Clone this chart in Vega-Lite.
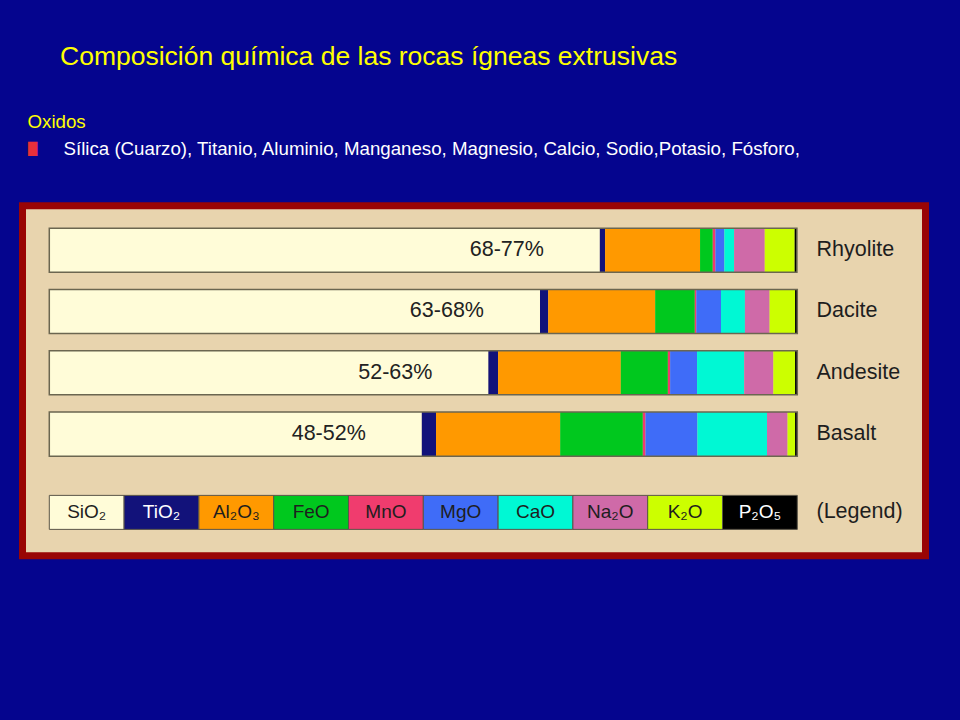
{
  "$schema": "https://vega.github.io/schema/vega-lite/v6.json",
  "width": 903,
  "height": 350,
  "autosize": {"type": "none"},
  "padding": {"left": 22.5, "top": 205.8, "right": 34.5, "bottom": 164.2},
  "background": "#05058e",
  "view": {"fill": "#e8d4ae", "stroke": "#990505", "strokeWidth": 7},
  "title": {
    "text": "Composición química de las rocas ígneas extrusivas",
    "anchor": "start",
    "frame": "group",
    "dx": 37.5,
    "offset": 42,
    "color": "#ffff00",
    "font": "Liberation Sans",
    "fontSize": 26.5,
    "fontWeight": "normal"
  },
  "datasets": {
    "comp": [
      {"rock": "Rhyolite", "oxide": "SiO2", "k": 1, "value": 73.6, "range": "68-77%"},
      {"rock": "Rhyolite", "oxide": "TiO2", "k": 2, "value": 0.7, "range": "68-77%"},
      {"rock": "Rhyolite", "oxide": "Al2O3", "k": 3, "value": 12.7, "range": "68-77%"},
      {"rock": "Rhyolite", "oxide": "FeO", "k": 4, "value": 1.7, "range": "68-77%"},
      {"rock": "Rhyolite", "oxide": "MnO", "k": 5, "value": 0.35, "range": "68-77%"},
      {"rock": "Rhyolite", "oxide": "MgO", "k": 6, "value": 1.2, "range": "68-77%"},
      {"rock": "Rhyolite", "oxide": "CaO", "k": 7, "value": 1.3, "range": "68-77%"},
      {"rock": "Rhyolite", "oxide": "Na2O", "k": 8, "value": 4.1, "range": "68-77%"},
      {"rock": "Rhyolite", "oxide": "K2O", "k": 9, "value": 4.0, "range": "68-77%"},
      {"rock": "Rhyolite", "oxide": "P2O5", "k": 10, "value": 0.3, "range": "68-77%"},
      {"rock": "Dacite", "oxide": "SiO2", "k": 1, "value": 65.6, "range": "63-68%"},
      {"rock": "Dacite", "oxide": "TiO2", "k": 2, "value": 1.1, "range": "63-68%"},
      {"rock": "Dacite", "oxide": "Al2O3", "k": 3, "value": 14.3, "range": "63-68%"},
      {"rock": "Dacite", "oxide": "FeO", "k": 4, "value": 5.3, "range": "63-68%"},
      {"rock": "Dacite", "oxide": "MnO", "k": 5, "value": 0.2, "range": "63-68%"},
      {"rock": "Dacite", "oxide": "MgO", "k": 6, "value": 3.3, "range": "63-68%"},
      {"rock": "Dacite", "oxide": "CaO", "k": 7, "value": 3.2, "range": "63-68%"},
      {"rock": "Dacite", "oxide": "Na2O", "k": 8, "value": 3.3, "range": "63-68%"},
      {"rock": "Dacite", "oxide": "K2O", "k": 9, "value": 3.4, "range": "63-68%"},
      {"rock": "Dacite", "oxide": "P2O5", "k": 10, "value": 0.3, "range": "63-68%"},
      {"rock": "Andesite", "oxide": "SiO2", "k": 1, "value": 58.7, "range": "52-63%"},
      {"rock": "Andesite", "oxide": "TiO2", "k": 2, "value": 1.3, "range": "52-63%"},
      {"rock": "Andesite", "oxide": "Al2O3", "k": 3, "value": 16.4, "range": "52-63%"},
      {"rock": "Andesite", "oxide": "FeO", "k": 4, "value": 6.3, "range": "52-63%"},
      {"rock": "Andesite", "oxide": "MnO", "k": 5, "value": 0.3, "range": "52-63%"},
      {"rock": "Andesite", "oxide": "MgO", "k": 6, "value": 3.6, "range": "52-63%"},
      {"rock": "Andesite", "oxide": "CaO", "k": 7, "value": 6.3, "range": "52-63%"},
      {"rock": "Andesite", "oxide": "Na2O", "k": 8, "value": 3.9, "range": "52-63%"},
      {"rock": "Andesite", "oxide": "K2O", "k": 9, "value": 2.9, "range": "52-63%"},
      {"rock": "Andesite", "oxide": "P2O5", "k": 10, "value": 0.3, "range": "52-63%"},
      {"rock": "Basalt", "oxide": "SiO2", "k": 1, "value": 49.8, "range": "48-52%"},
      {"rock": "Basalt", "oxide": "TiO2", "k": 2, "value": 1.9, "range": "48-52%"},
      {"rock": "Basalt", "oxide": "Al2O3", "k": 3, "value": 16.6, "range": "48-52%"},
      {"rock": "Basalt", "oxide": "FeO", "k": 4, "value": 11.05, "range": "48-52%"},
      {"rock": "Basalt", "oxide": "MnO", "k": 5, "value": 0.35, "range": "48-52%"},
      {"rock": "Basalt", "oxide": "MgO", "k": 6, "value": 6.95, "range": "48-52%"},
      {"rock": "Basalt", "oxide": "CaO", "k": 7, "value": 9.3, "range": "48-52%"},
      {"rock": "Basalt", "oxide": "Na2O", "k": 8, "value": 2.75, "range": "48-52%"},
      {"rock": "Basalt", "oxide": "K2O", "k": 9, "value": 1.0, "range": "48-52%"},
      {"rock": "Basalt", "oxide": "P2O5", "k": 10, "value": 0.3, "range": "48-52%"}
    ],
    "legend": [
      {"rock": "(Legend)", "oxide": "SiO2", "k": 1, "value": 10, "lab": "SiO₂"},
      {"rock": "(Legend)", "oxide": "TiO2", "k": 2, "value": 10, "lab": "TiO₂"},
      {"rock": "(Legend)", "oxide": "Al2O3", "k": 3, "value": 10, "lab": "Al₂O₃"},
      {"rock": "(Legend)", "oxide": "FeO", "k": 4, "value": 10, "lab": "FeO"},
      {"rock": "(Legend)", "oxide": "MnO", "k": 5, "value": 10, "lab": "MnO"},
      {"rock": "(Legend)", "oxide": "MgO", "k": 6, "value": 10, "lab": "MgO"},
      {"rock": "(Legend)", "oxide": "CaO", "k": 7, "value": 10, "lab": "CaO"},
      {"rock": "(Legend)", "oxide": "Na2O", "k": 8, "value": 10, "lab": "Na₂O"},
      {"rock": "(Legend)", "oxide": "K2O", "k": 9, "value": 10, "lab": "K₂O"},
      {"rock": "(Legend)", "oxide": "P2O5", "k": 10, "value": 10, "lab": "P₂O₅"}
    ]
  },
  "layer": [
    {
      "data": {"name": "comp"},
      "mark": {"type": "bar"},
      "encoding": {
        "y": {
          "field": "rock", "type": "nominal",
          "scale": {"domain": ["Rhyolite", "Dacite", "Andesite", "Basalt", "(Legend)"], "paddingInner": 0.28, "paddingOuter": 0.495, "align": 0.368},
          "axis": {
            "orient": "right", "offset": -109.5, "domain": false, "ticks": false, "tickSize": 0, "grid": false,
            "labelPadding": 0, "labelAlign": "left", "labelBaseline": "middle",
            "labelFont": "Liberation Sans", "labelFontSize": 21.5, "labelColor": "#1e1e1e",
            "labelOffset": {"condition": {"test": "datum.value === '(Legend)'", "value": 17}, "value": 0},
            "title": null
          }
        },
        "x": {
          "field": "value", "type": "quantitative", "stack": "zero",
          "scale": {"domain": [-3.583, 117.14], "nice": false, "zero": false},
          "axis": {
            "orient": "top", "labels": false, "ticks": false, "domain": false, "grid": false,
            "title": "Sílica (Cuarzo), Titanio, Aluminio, Manganeso, Magnesio, Calcio, Sodio,Potasio, Fósforo,",
            "titleX": 40.5, "titleY": -51.8, "titleAlign": "left", "titleBaseline": "alphabetic", "titleAngle": 0,
            "titleColor": "#ffffff", "titleFont": "Liberation Sans", "titleFontSize": 18.7, "titleFontWeight": "normal"
          }
        },
        "order": {"field": "k", "type": "quantitative"},
        "color": {
          "field": "oxide", "type": "nominal", "legend": null,
          "scale": {
            "domain": ["SiO2", "TiO2", "Al2O3", "FeO", "MnO", "MgO", "CaO", "Na2O", "K2O", "P2O5"],
            "range": ["#fffcd8", "#12127a", "#ff9900", "#00c81e", "#f03c6e", "#3f6cf8", "#00f8d4", "#cf6aa8", "#ccff00", "#000000"]
          }
        }
      }
    },
    {
      "data": {"name": "comp"},
      "mark": {"type": "bar", "fill": null, "fillOpacity": 0, "stroke": "#6b6650", "strokeWidth": 1.5},
      "encoding": {
        "y": {
          "field": "rock", "type": "nominal",
          "axis": {
            "orient": "left", "labels": false, "ticks": false, "domain": false, "grid": false,
            "title": "Oxidos", "titleX": 4.5, "titleY": -78.8, "titleAngle": 0, "titleAlign": "left", "titleBaseline": "alphabetic",
            "titleColor": "#ffff00", "titleFont": "Liberation Sans", "titleFontSize": 18.7, "titleFontWeight": "normal"
          }
        },
        "x": {
          "aggregate": "sum", "field": "value", "type": "quantitative",
          "axis": {
            "orient": "bottom", "labels": false, "ticks": false, "domain": false, "grid": false,
            "title": "█", "titleX": 5, "titleY": -407.3, "titleAlign": "left", "titleBaseline": "middle", "titleAngle": 0,
            "titleColor": "#e8303a", "titleFont": "DejaVu Sans", "titleFontSize": 12, "titleFontWeight": "normal"
          }
        }
      }
    },
    {
      "data": {"name": "comp"},
      "transform": [{"filter": "datum.oxide === 'SiO2'"}],
      "mark": {"type": "text", "align": "right", "baseline": "middle", "dx": -56, "font": "Liberation Sans", "fontSize": 21.5, "color": "#222222"},
      "encoding": {
        "y": {"field": "rock", "type": "nominal", "axis": null},
        "x": {"field": "value", "type": "quantitative", "axis": null},
        "text": {"field": "range"}
      }
    },
    {
      "data": {"name": "legend"},
      "mark": {"type": "bar", "height": 34, "yOffset": 17, "stroke": "#5a5548", "strokeWidth": 1},
      "encoding": {
        "y": {"field": "rock", "type": "nominal", "axis": null},
        "x": {"field": "value", "type": "quantitative", "stack": "zero", "axis": null},
        "order": {"field": "k", "type": "quantitative"},
        "color": {"field": "oxide", "type": "nominal", "legend": null}
      }
    },
    {
      "data": {"name": "legend"},
      "mark": {"type": "text", "align": "center", "baseline": "middle", "dx": -37.4, "dy": 17, "font": "Liberation Sans", "fontSize": 19},
      "encoding": {
        "y": {"field": "rock", "type": "nominal", "axis": null},
        "x": {"field": "value", "type": "quantitative", "stack": "zero", "axis": null},
        "order": {"field": "k", "type": "quantitative"},
        "text": {"field": "lab"},
        "color": {
          "condition": {"test": "datum.oxide === 'TiO2' || datum.oxide === 'P2O5'", "value": "#ffffff"},
          "value": "#1e1e1e"
        }
      }
    }
  ],
  "resolve": {"axis": {"x": "independent", "y": "independent"}, "scale": {"color": "shared"}}
}
